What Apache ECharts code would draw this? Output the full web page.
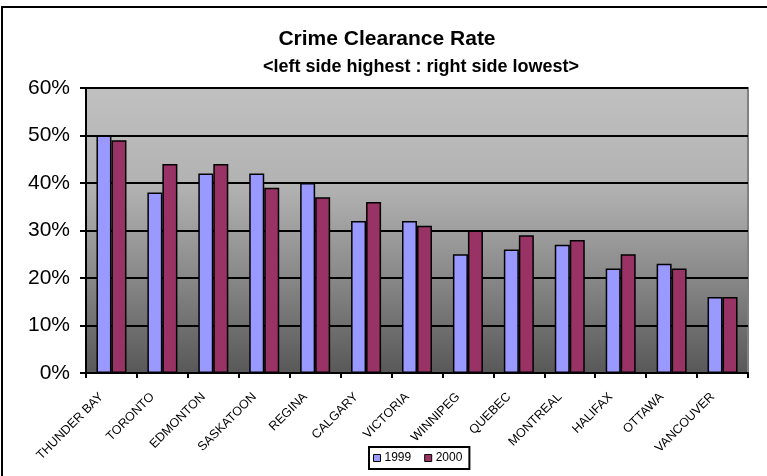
<!DOCTYPE html>
<html>
<head>
<meta charset="utf-8">
<script src="https://cdn.jsdelivr.net/npm/echarts@6/dist/echarts.min.js"></script>
<style>
  html, body { margin: 0; padding: 0; background: #fff; }
  #chart { width: 767px; height: 476px; }
</style>
</head>
<body>
<div id="chart"></div>
<script>
const cities = ['THUNDER BAY', 'TORONTO', 'EDMONTON', 'SASKATOON', 'REGINA', 'CALGARY', 'VICTORIA', 'WINNIPEG', 'QUEBEC', 'MONTREAL', 'HALIFAX', 'OTTAWA', 'VANCOUVER'];
const rate1999 = [0.50, 0.38, 0.42, 0.42, 0.40, 0.32, 0.32, 0.25, 0.26, 0.27, 0.22, 0.23, 0.16];
const rate2000 = [0.49, 0.44, 0.44, 0.39, 0.37, 0.36, 0.31, 0.30, 0.29, 0.28, 0.25, 0.22, 0.16];
const seriesNames = ['1999', '2000'];
const titleLine1 = 'Crime Clearance Rate';
const titleLine2 = '<left side highest : right side lowest>';

const FONT = 'Liberation Sans, Arial, sans-serif';
const chart = echarts.init(document.getElementById('chart'), null, { renderer: 'canvas' });

chart.setOption({
  animation: false,
  backgroundColor: '#ffffff',
  graphic: [
    {
      type: 'rect', z: -10, silent: true,
      shape: { x: 2, y: 7, width: 900, height: 600 },
      style: { fill: 'none', stroke: '#000', lineWidth: 2 }
    },
    {
      type: 'text', x: 387, y: 29,
      style: { text: titleLine1, textAlign: 'center', textVerticalAlign: 'top', fontFamily: FONT, fontWeight: 'bold', fontSize: 21, fill: '#000' }
    },
    {
      type: 'text', x: 421, y: 58,
      style: { text: titleLine2, textAlign: 'center', textVerticalAlign: 'top', fontFamily: FONT, fontWeight: 'bold', fontSize: 18, fill: '#000' }
    }
  ],
  grid: {
    left: 86, top: 88, right: 19, bottom: 103,
    show: true,
    backgroundColor: {
      type: 'linear', x: 0, y: 0, x2: 0, y2: 1,
      colorStops: [
        { offset: 0, color: '#c0c0c0' },
        { offset: 0.35, color: '#b2b2b2' },
        { offset: 0.65, color: '#8a8a8a' },
        { offset: 1, color: '#585858' }
      ]
    },
    borderColor: '#808080',
    borderWidth: 2
  },
  legend: {
    data: seriesNames,
    left: 369, top: 447,
    orient: 'horizontal',
    itemWidth: 7, itemHeight: 7, itemGap: 13,
    icon: 'rect',
    padding: [5, 7, 5, 4],
    borderColor: '#000', borderWidth: 2,
    backgroundColor: '#fff',
    textStyle: { fontFamily: FONT, fontSize: 12, color: '#000', padding: [0, 0, 0, -1] },
    itemStyle: { borderColor: '#000', borderWidth: 1 }
  },
  xAxis: {
    type: 'category',
    data: cities,
    axisLine: { show: true, lineStyle: { color: '#000', width: 2 } },
    axisTick: { show: true, alignWithLabel: false, length: 5, lineStyle: { color: '#000', width: 2 } },
    axisLabel: {
      interval: 0, rotate: 45, margin: 12,
      fontFamily: FONT, fontSize: 12.5, color: '#000',
      padding: [0, 14, 0, 0]
    },
    splitLine: { show: false }
  },
  yAxis: {
    type: 'value',
    min: 0, max: 0.6, interval: 0.1,
    axisLine: { show: true, lineStyle: { color: '#000', width: 2 } },
    axisTick: { show: true, length: 6, lineStyle: { color: '#000', width: 2 } },
    axisLabel: {
      margin: 16,
      fontFamily: FONT, fontSize: 21, color: '#000',
      formatter: v => Math.round(v * 100) + '%'
    },
    splitLine: { show: true, lineStyle: { color: '#000', width: 2 } }
  },
  series: [
    {
      name: seriesNames[0], type: 'bar', data: rate1999,
      barWidth: 15, barGap: '0%',
      itemStyle: { color: '#9999ff', borderColor: '#000', borderWidth: 1.5 }
    },
    {
      name: seriesNames[1], type: 'bar', data: rate2000,
      barWidth: 15, barGap: '0%',
      itemStyle: { color: '#993366', borderColor: '#000', borderWidth: 1.5 }
    }
  ]
});
</script>
</body>
</html>
